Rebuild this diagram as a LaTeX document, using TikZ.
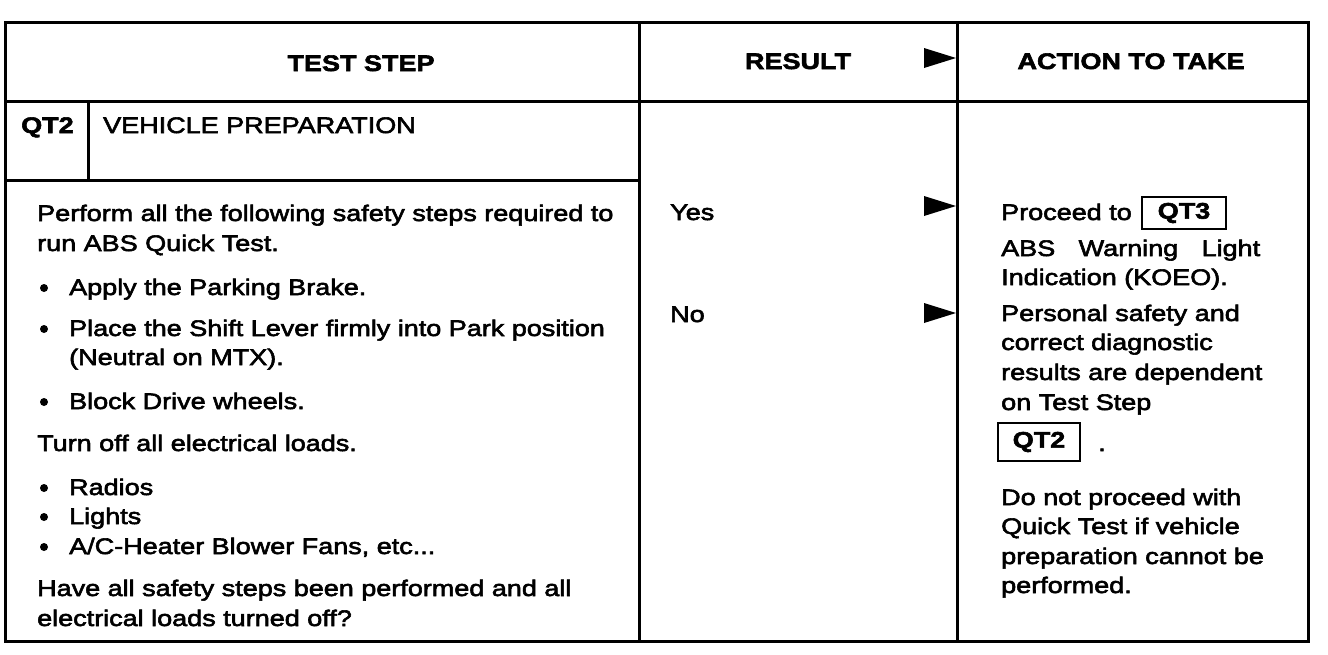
\documentclass[tikz,border=0pt]{standalone}
\usepackage{fontspec}
\setmainfont{Liberation Sans}[FakeStretch=1.2,FakeBold=2.6]
\tikzset{
  rule/.style={line width=3pt,line cap=rect},
  tx/.style={anchor=base west,inner sep=0pt,font=\fontsize{22.5}{30}\selectfont},
  hd/.style={anchor=base,inner sep=0pt,font=\fontsize{22.5}{30}\selectfont\bfseries},
  refbox/.style={draw,line width=2.8pt,inner sep=0pt,minimum height=32pt,font=\fontsize{22.5}{30}\selectfont\bfseries},
  tri/.style={fill=black},
  bul/.style={circle,fill=black,inner sep=0pt,minimum size=8pt}
}
\begin{document}
\begin{tikzpicture}[x=1pt,y=-1pt]
\useasboundingbox (0,0) rectangle (1328,654);
% table frame
\coordinate (tl) at (5,22);
\coordinate (br) at (1308,641);
\draw[rule] (tl) rectangle (br);
\draw[rule] (5,101) -- (1308,101);
\draw[rule] (639,22) -- (639,641);
\draw[rule] (957,22) -- (957,641);
\draw[rule] (5,180) -- (639,180);
\draw[rule] (88,101) -- (88,180);
% arrow triangles
\fill[tri] (924,48) -- (956,58) -- (924,68) -- cycle;
\fill[tri] (924,196) -- (956,206) -- (924,216) -- cycle;
\fill[tri] (924,303) -- (956,313) -- (924,323) -- cycle;
% headers
\node[hd] (h1) at (361,71) {TEST STEP};
\node[hd] (h2) at (798,69) {RESULT};
\node[hd] (h3) at (1131,69) {ACTION TO TAKE};
\node[hd,anchor=base west] (qt) at (21,133) {QT2};
\node[tx] (vp) at (103,133) {VEHICLE PREPARATION};
% test step body
\node[tx] (l1) at (37,221) {Perform all the following safety steps required to};
\node[tx] (l2) at (37,251) {run ABS Quick Test.};
\node[bul] (b1) at (44,288) {};
\node[tx] (l3) at (69,295) {Apply the Parking Brake.};
\node[bul] (b2) at (44,329) {};
\node[tx] (l4) at (69,336) {Place the Shift Lever firmly into Park position};
\node[tx] (l5) at (69,365) {(Neutral on MTX).};
\node[bul] (b3) at (44,402) {};
\node[tx] (l6) at (69,409) {Block Drive wheels.};
\node[tx] (l7) at (37,451) {Turn off all electrical loads.};
\node[bul] (b4) at (44,488) {};
\node[tx] (l8) at (69,495) {Radios};
\node[bul] (b5) at (44,517) {};
\node[tx] (l9) at (69,524) {Lights};
\node[bul] (b6) at (44,547) {};
\node[tx] (l10) at (69,554) {A/C-Heater Blower Fans, etc...};
\node[tx] (l11) at (37,596) {Have all safety steps been performed and all};
\node[tx] (l12) at (37,626) {electrical loads turned off?};
% results
\node[tx] (yes) at (670,220) {Yes};
\node[tx] (no) at (670,322) {No};
% actions
\node[tx] (a1) at (1001,220) {Proceed to};
\node[refbox,minimum width=84pt] (qt3) at (1184,213) {QT3};
\node[tx] (a2) at (1001,256) {\hbox to 259pt{ABS\hfil Warning\hfil Light}};
\node[tx] (a3) at (1001,285) {Indication (KOEO).};
\node[tx] (a4) at (1001,321) {Personal safety and};
\node[tx] (a5) at (1001,350) {correct diagnostic};
\node[tx] (a6) at (1001,380) {results are dependent};
\node[tx] (a7) at (1001,410) {on Test Step};
\node[refbox,minimum width=82pt,minimum height=38pt] (qt2b) at (1039,442) {QT2};
\node[tx] (dot) at (1098,451) {.};
\node[tx] (a8) at (1001,505) {Do not proceed with};
\node[tx] (a9) at (1001,534) {Quick Test if vehicle};
\node[tx] (a10) at (1001,564) {preparation cannot be};
\node[tx] (a11) at (1001,593) {performed.};
\end{tikzpicture}
\end{document}
